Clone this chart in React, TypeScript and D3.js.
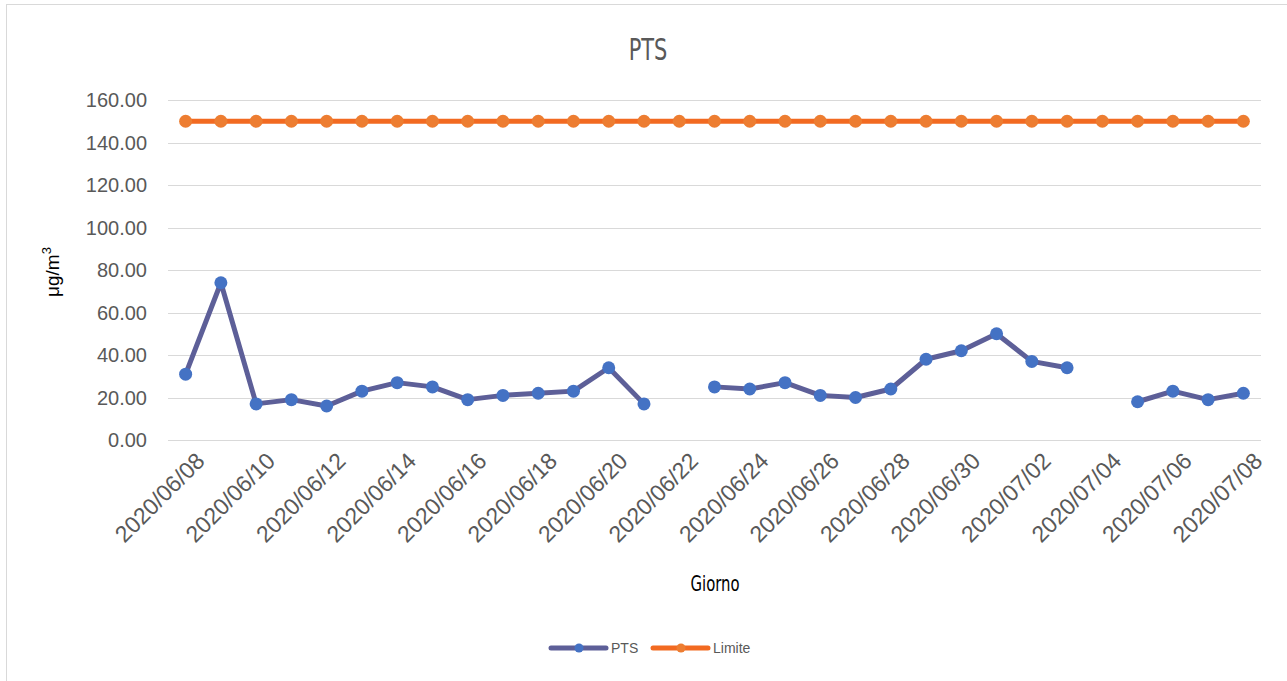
import { useRef, useEffect } from "react";
import * as d3 from "d3";

const WIDTH = 1287;
const HEIGHT = 681;

const DAYS = [
  "2020/06/08", "2020/06/09", "2020/06/10", "2020/06/11", "2020/06/12", "2020/06/13",
  "2020/06/14", "2020/06/15", "2020/06/16", "2020/06/17", "2020/06/18", "2020/06/19",
  "2020/06/20", "2020/06/21", "2020/06/22", "2020/06/23", "2020/06/24", "2020/06/25",
  "2020/06/26", "2020/06/27", "2020/06/28", "2020/06/29", "2020/06/30", "2020/07/01",
  "2020/07/02", "2020/07/03", "2020/07/04", "2020/07/05", "2020/07/06", "2020/07/07",
  "2020/07/08",
];

const PTS: (number | null)[] = [
  31, 74, 17, 19, 16, 23, 27, 25, 19, 21, 22, 23, 34, 17, null, 25, 24, 27, 21, 20, 24,
  38, 42, 50, 37, 34, null, 18, 23, 19, 22,
];

const LIMITE: number[] = DAYS.map(() => 150);

const Y_TICKS = [0, 20, 40, 60, 80, 100, 120, 140, 160];

const PTS_LINE = "#5d5f98";
const PTS_DOT = "#4472c4";
const LIM_LINE = "#f26a21";
const LIM_DOT = "#ed7d31";
const TICK_FONT = "'Liberation Sans', Arial, sans-serif";
const COND_FONT = "'DejaVu Sans Condensed', 'Liberation Sans Narrow', 'DejaVu Sans', sans-serif";

export default function App() {
  const svgRef = useRef<SVGSVGElement>(null);

  useEffect(() => {
    const svg = d3.select(svgRef.current);
    svg.selectAll("*").remove();

    const left = 168, right = 1261, top = 100, bottom = 440;

    const x = d3.scaleBand<string>().domain(DAYS).range([left, right]);
    const cx = (d: string) => (x(d) ?? 0) + x.bandwidth() / 2;
    const y = d3.scaleLinear().domain([0, 160]).range([bottom, top]);

    // chart frame
    svg.append("rect")
      .attr("x", 6.5).attr("y", 4.5)
      .attr("width", 1300).attr("height", 700)
      .attr("fill", "#fff")
      .attr("stroke", "#d9d9d9");

    // gridlines
    svg.append("g")
      .selectAll("line")
      .data(Y_TICKS)
      .enter()
      .append("line")
      .attr("x1", left).attr("x2", right)
      .attr("y1", (d) => Math.round(y(d)) + 0.5)
      .attr("y2", (d) => Math.round(y(d)) + 0.5)
      .attr("stroke", "#d9d9d9")
      .attr("stroke-width", 1);

    // y tick labels
    svg.append("g")
      .selectAll("text")
      .data(Y_TICKS)
      .enter()
      .append("text")
      .attr("x", 147)
      .attr("y", (d) => y(d) + 7)
      .attr("text-anchor", "end")
      .attr("font-family", TICK_FONT)
      .attr("font-size", 20)
      .attr("fill", "#595959")
      .text((d) => d.toFixed(2));

    // x tick labels every 2 days
    svg.append("g")
      .selectAll("text")
      .data(DAYS.filter((_, i) => i % 2 === 0))
      .enter()
      .append("text")
      .attr("transform", (d) => `translate(${cx(d) + 9},${451}) rotate(-45)`)
      .attr("text-anchor", "end")
      .attr("dy", "0.7em")
      .attr("font-family", TICK_FONT)
      .attr("font-size", 23)
      .attr("fill", "#595959")
      .text((d) => d);

    // series
    const drawSeries = (vals: (number | null)[], lineColor: string, dotColor: string) => {
      const pts = DAYS.map((d, i) => ({ d, v: vals[i] }));
      const line = d3.line<{ d: string; v: number | null }>()
        .defined((p) => p.v != null)
        .x((p) => cx(p.d))
        .y((p) => y(p.v as number));
      svg.append("path")
        .attr("d", line(pts))
        .attr("fill", "none")
        .attr("stroke", lineColor)
        .attr("stroke-width", 5)
        .attr("stroke-linejoin", "round")
        .attr("stroke-linecap", "round");
      svg.append("g")
        .selectAll("circle")
        .data(pts.filter((p) => p.v != null))
        .enter()
        .append("circle")
        .attr("cx", (p) => cx(p.d))
        .attr("cy", (p) => y(p.v as number))
        .attr("r", 6.5)
        .attr("fill", dotColor);
    };
    drawSeries(PTS, PTS_LINE, PTS_DOT);
    drawSeries(LIMITE, LIM_LINE, LIM_DOT);

    // title
    svg.append("text")
      .attr("x", 648).attr("y", 60)
      .attr("text-anchor", "middle")
      .attr("font-family", COND_FONT)
      .attr("font-size", 31)
      .attr("fill", "#595959")
      .attr("transform", "translate(648,0) scale(0.75,1) translate(-648,0)")
      .text("PTS");

    // axis titles
    svg.append("text")
      .attr("transform", "translate(59,272) rotate(-90)")
      .attr("text-anchor", "middle")
      .attr("font-family", TICK_FONT)
      .attr("font-size", 19)
      .attr("fill", "#000")
      .text("μg/m")
      .append("tspan")
      .attr("dy", -8)
      .attr("font-size", 13)
      .text("3");

    svg.append("text")
      .attr("x", 715).attr("y", 591)
      .attr("text-anchor", "middle")
      .attr("font-family", COND_FONT)
      .attr("font-size", 22)
      .attr("fill", "#000")
      .attr("transform", "translate(715,0) scale(0.75,1) translate(-715,0)")
      .text("Giorno");

    // legend
    const legend = [
      { name: "PTS", line: PTS_LINE, dot: PTS_DOT, x: 551 },
      { name: "Limite", line: LIM_LINE, dot: LIM_DOT, x: 653 },
    ];
    const lg = svg.append("g").selectAll("g").data(legend).enter().append("g")
      .attr("transform", (d) => `translate(${d.x},648)`);
    lg.append("line")
      .attr("x1", 0).attr("x2", 55)
      .attr("stroke", (d) => d.line)
      .attr("stroke-width", 5)
      .attr("stroke-linecap", "round");
    lg.append("circle").attr("cx", 28).attr("r", 4.5).attr("fill", (d) => d.dot);
    lg.append("text")
      .attr("x", 60).attr("y", 5)
      .attr("font-family", TICK_FONT)
      .attr("font-size", 14)
      .attr("fill", "#595959")
      .text((d) => d.name);
  }, []);

  return (
    <svg
      ref={svgRef}
      width={WIDTH}
      height={HEIGHT}
      style={{ position: "absolute", left: 0, top: 0, background: "#fff" }}
    />
  );
}
